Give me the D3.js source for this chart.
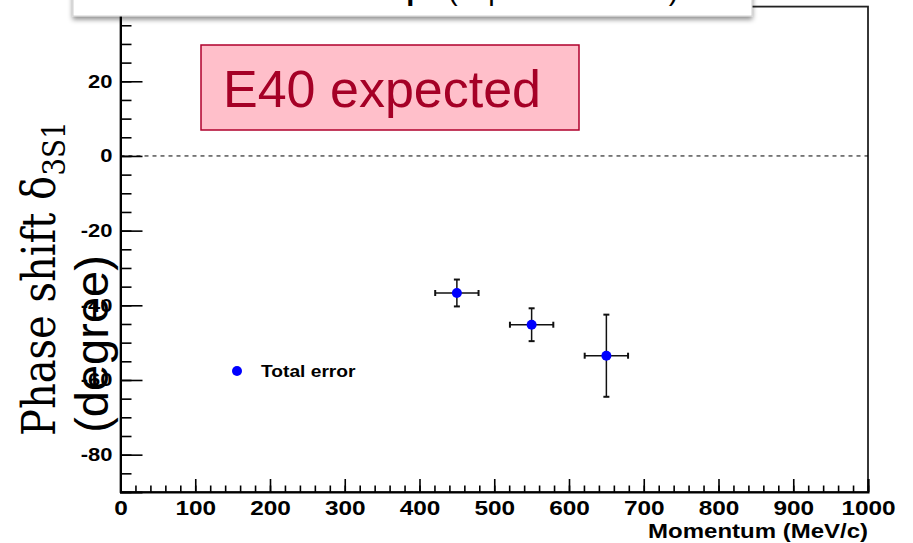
<!DOCTYPE html>
<html>
<head>
<meta charset="utf-8">
<script src="https://cdn.jsdelivr.net/npm/d3@7"></script>
<style>
  body { margin: 0; background: #fff; }
  svg { display: block; }
</style>
</head>
<body>
<svg id="chart" width="913" height="543"></svg>
<script>
// Measured points: momentum (MeV/c), phase shift (degree) and total errors
const momenta      = [450, 550, 650];
const phaseShift   = [-36.7, -45.2, -53.5];
const momentumErr  = [29, 29, 29];
const phaseErr     = [3.6, 4.4, 11.0];

const xMajorTicks = [0, 100, 200, 300, 400, 500, 600, 700, 800, 900, 1000];
const yMajorTicks = [-80, -60, -40, -20, 0, 20];
const xDomain = [0, 1000];
const yDomain = [-90, 40];

const legendLabel = "Total error";
const xTitle = "Momentum (MeV/c)";
const boxLabel = "E40 expected";

const svg = d3.select("#chart");
const plot = { left: 120.5, right: 868, top: 6.6, bottom: 492 };

const x = d3.scaleLinear().domain(xDomain).range([plot.left, plot.right]);
const y = d3.scaleLinear().domain(yDomain).range([plot.bottom, plot.top]);

// the axis lettering is drawn slightly widened, like the original canvas
const widen = 1.22;

const defs = svg.append("defs");
const shadow = defs.append("filter").attr("id", "shadow")
  .attr("x", "-10%").attr("y", "-50%").attr("width", "120%").attr("height", "250%");
shadow.append("feDropShadow").attr("dx", 0).attr("dy", 3).attr("stdDeviation", 2.5)
  .attr("flood-color", "#000").attr("flood-opacity", 0.45);

// frame
svg.append("rect")
  .attr("x", plot.left).attr("y", plot.top)
  .attr("width", plot.right - plot.left).attr("height", plot.bottom - plot.top)
  .attr("fill", "none").attr("stroke", "#222").attr("stroke-width", 1.8);

// zero reference line
svg.append("line")
  .attr("x1", x(0)).attr("x2", x(1000))
  .attr("y1", y(0)).attr("y2", y(0))
  .attr("stroke", "#000").attr("stroke-width", 1)
  .attr("stroke-dasharray", "4,4");

const labelFont = "'Liberation Sans', Arial, Helvetica, sans-serif";

// x axis: minor ticks every 20, major every 100, ticks pointing into the frame
const xMinor = svg.append("g").attr("transform", `translate(0,${plot.bottom})`)
  .call(d3.axisBottom(x).tickValues(d3.range(0, 1001, 20)).tickSize(-6.5).tickFormat(""));
xMinor.select(".domain").remove();
const xAxis = svg.append("g").attr("transform", `translate(0,${plot.bottom})`)
  .call(d3.axisBottom(x).tickValues(xMajorTicks).tickSize(-13).tickPadding(8.5)
    .tickFormat(d => String(d)));
xAxis.select(".domain").attr("stroke-width", 2);
xAxis.selectAll("text").attr("font-family", labelFont).attr("font-weight", "bold")
  .attr("font-size", 20).attr("fill", "#000")
  .attr("transform", `scale(${widen},1)`);

// y axis: minor ticks every 5, major every 20
const yMinor = svg.append("g").attr("transform", `translate(${plot.left},0)`)
  .call(d3.axisLeft(y).tickValues(d3.range(-90, 41, 5)).tickSize(-11).tickFormat(""));
yMinor.select(".domain").remove();
const yAxis = svg.append("g").attr("transform", `translate(${plot.left},0)`)
  .call(d3.axisLeft(y).tickValues(yMajorTicks).tickSize(-22).tickPadding(6.6)
    .tickFormat(d => String(d)));
yAxis.select(".domain").attr("stroke-width", 2);
yAxis.selectAll("text").attr("font-family", labelFont).attr("font-weight", "bold")
  .attr("font-size", 18).attr("fill", "#000")
  .attr("transform", `scale(${widen},1)`);
svg.selectAll(".tick line").attr("stroke-width", 1.6);

// axis titles
svg.append("text")
  .attr("transform", `translate(${plot.right},538) scale(1.2,1)`)
  .attr("text-anchor", "end")
  .attr("font-family", labelFont).attr("font-weight", "bold").attr("font-size", 20)
  .text(xTitle);

const yTitle = svg.append("text")
  .attr("transform", "translate(55,436) rotate(-90) scale(1,1.15)")
  .attr("font-family", "'DejaVu Serif', serif").attr("font-size", 40);
yTitle.append("tspan").text("Phase shift δ");
yTitle.append("tspan").attr("font-size", 28).attr("dy", 9).text("3S1");

svg.append("text")
  .attr("transform", "translate(108,344) rotate(-90)")
  .attr("text-anchor", "middle")
  .attr("font-family", labelFont).attr("font-size", 47)
  .text("(degree)");

// error bars with end caps
const pts = momenta.map((m, i) => ({ m, v: phaseShift[i], em: momentumErr[i], ev: phaseErr[i] }));
const bars = svg.append("g").attr("stroke", "#111").attr("stroke-width", 1.5);
pts.forEach(p => {
  bars.append("line").attr("x1", x(p.m - p.em)).attr("x2", x(p.m + p.em))
    .attr("y1", y(p.v)).attr("y2", y(p.v));
  bars.append("line").attr("x1", x(p.m)).attr("x2", x(p.m))
    .attr("y1", y(p.v - p.ev)).attr("y2", y(p.v + p.ev));
  const cap = 3;
  [p.m - p.em, p.m + p.em].forEach(e => bars.append("line").attr("stroke-width", 2)
    .attr("x1", x(e)).attr("x2", x(e)).attr("y1", y(p.v) - cap).attr("y2", y(p.v) + cap));
  [p.v - p.ev, p.v + p.ev].forEach(e => bars.append("line").attr("stroke-width", 2)
    .attr("x1", x(p.m) - cap).attr("x2", x(p.m) + cap).attr("y1", y(e)).attr("y2", y(e)));
});
svg.append("g").selectAll("circle").data(pts).join("circle")
  .attr("cx", d => x(d.m)).attr("cy", d => y(d.v)).attr("r", 5)
  .attr("fill", "#0000ff");

// legend
svg.append("circle").attr("cx", 237).attr("cy", 371).attr("r", 5).attr("fill", "#0000ff");
svg.append("text").attr("transform", "translate(261,377) scale(1.2,1)")
  .attr("font-family", labelFont).attr("font-weight", "bold").attr("font-size", 16)
  .text(legendLabel);

// "E40 expected" banner
svg.append("rect").attr("x", 201).attr("y", 45).attr("width", 378).attr("height", 85)
  .attr("fill", "#ffbfca").attr("stroke", "#b0002c").attr("stroke-width", 1.5);
svg.append("text").attr("x", 223).attr("y", 107)
  .attr("font-family", labelFont).attr("font-size", 52).attr("fill", "#a50026")
  .text(boxLabel);

// heading panel overlapping the top of the figure
const head = svg.append("g");
head.append("rect").attr("x", 73).attr("y", -20).attr("width", 679).attr("height", 36)
  .attr("fill", "#fff").attr("stroke", "#d0d0d0").attr("stroke-width", 1)
  .attr("filter", "url(#shadow)");
head.append("text").attr("x", 424).attr("y", -0.5).attr("text-anchor", "end")
  .attr("font-family", labelFont).attr("font-weight", "bold").attr("font-size", 29)
  .text("Σ⁺p");
head.append("text").attr("x", 448).attr("y", -0.5)
  .attr("font-family", labelFont).attr("font-size", 29)
  .text("(expected results)");
</script>
</body>
</html>
